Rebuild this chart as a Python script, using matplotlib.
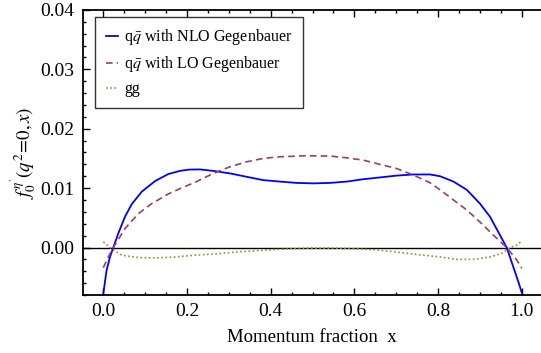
import matplotlib
matplotlib.use("Agg")
import matplotlib.pyplot as plt
from matplotlib.ticker import MultipleLocator, FormatStrFormatter

plt.rcParams['font.family'] = ['Liberation Serif', 'DejaVu Serif']
plt.rcParams['mathtext.fontset'] = 'stix'

# --- data ---
x_nlo = [0.0, 0.008, 0.016, 0.024, 0.036, 0.052, 0.068, 0.092, 0.124, 0.155, 0.183,
         0.205, 0.231, 0.263, 0.303, 0.343, 0.382, 0.422, 0.462, 0.502, 0.542, 0.582,
         0.621, 0.661, 0.70, 0.741, 0.781, 0.805, 0.837, 0.869, 0.90, 0.924, 0.944,
         0.964, 0.98, 0.992, 1.0]
y_nlo = [-0.0078, -0.0038, -0.0016, 0.0, 0.0024, 0.0052, 0.0073, 0.0094, 0.0112,
         0.01236, 0.0129, 0.01312, 0.01315, 0.0129, 0.01248, 0.0119, 0.01135, 0.0111,
         0.01088, 0.0108, 0.01088, 0.0111, 0.0115, 0.0118, 0.0121, 0.0123, 0.0123,
         0.0120, 0.0111, 0.0097, 0.0074, 0.0052, 0.0026, 0.0, -0.0033, -0.0058, -0.0076]

x_lo = [0.0, 0.012, 0.024, 0.052, 0.084, 0.116, 0.155, 0.183, 0.223, 0.263, 0.303,
        0.343, 0.382, 0.422, 0.486, 0.542, 0.582, 0.621, 0.661, 0.701, 0.741, 0.781,
        0.805, 0.837, 0.869, 0.90, 0.932, 0.964, 0.988, 1.0]
y_lo = [-0.0034, -0.0016, 0.0, 0.0032, 0.0057, 0.0074, 0.0090, 0.0099, 0.0111, 0.01248,
        0.0136, 0.01444, 0.0150, 0.01528, 0.01545, 0.0154, 0.0151, 0.01472, 0.0140,
        0.0133, 0.0122, 0.0109, 0.0097, 0.0080, 0.0063, 0.0043, 0.0021, 0.0, -0.0021,
        -0.0035]

x_gg = [0.0, 0.02, 0.044, 0.084, 0.124, 0.171, 0.219, 0.263, 0.327, 0.398, 0.45,
        0.494, 0.55, 0.598, 0.65, 0.693, 0.74, 0.805, 0.845, 0.884, 0.924, 0.952,
        0.972, 0.988, 1.0]
y_gg = [0.00095, -0.0002, -0.0013, -0.0017, -0.00175, -0.0016, -0.0013, -0.0011,
        -0.0007, -0.0004, -0.0002, -0.0001, -0.0001, -0.0002, -0.0004, -0.0007, -0.0011,
        -0.0016, -0.0020, -0.0020, -0.0016, -0.0010, 0.0, 0.0004, 0.0011]

labels = [r"q$\bar{q}$ with NLO Gegenbauer", r"q$\bar{q}$ with LO Gegenbauer", "gg"]
colors = ["#0000ff", "#993d71", "#998c3d"]

fig = plt.figure(figsize=(5.41, 3.53), dpi=100)
ax = fig.add_axes([0.153, 0.1643, 0.847, 0.8074])

ax.plot(x_nlo, y_nlo, color=colors[0], lw=1.3, label=labels[0])
ax.plot(x_lo, y_lo, color=colors[1], lw=1.2, ls=(0, (4, 2.5)), label=labels[1])
ax.plot(x_gg, y_gg, color=colors[2], lw=1.2, ls=(0, (1, 1.5)), label=labels[2])
ax.axhline(0, color='black', lw=1.0, zorder=1)

ax.set_xlim(-0.049, 1.046)
ax.set_ylim(-0.0080, 0.04)

ax.xaxis.set_major_locator(MultipleLocator(0.2))
ax.xaxis.set_minor_locator(MultipleLocator(0.05))
ax.yaxis.set_major_locator(MultipleLocator(0.01))
ax.yaxis.set_minor_locator(MultipleLocator(0.002))
ax.xaxis.set_major_formatter(FormatStrFormatter('%.1f'))
ax.yaxis.set_major_formatter(FormatStrFormatter('%.2f'))

ax.tick_params(which='both', direction='in', top=True, right=False, labelsize=14, width=1.0)
ax.tick_params(which='major', length=5, pad=6)
ax.tick_params(which='minor', length=2.5)
for s in ['left', 'bottom', 'top']:
    ax.spines[s].set_linewidth(1.3)
ax.spines['right'].set_visible(False)

ax.set_xlabel("Momentum fraction  x", fontsize=13.5, labelpad=6)
ax.set_ylabel(r"$f_0^{\eta'}(q^2\!=\!0,x)$", fontsize=13.5, labelpad=2)

leg = ax.legend(loc='upper left', bbox_to_anchor=(0.027, 0.975), borderaxespad=0,
                fontsize=11.5, handlelength=0.8, handletextpad=0.35, labelspacing=0.43,
                borderpad=0.65, fancybox=False, edgecolor='#333333', framealpha=1)
leg.get_frame().set_linewidth(1.0)

fig.savefig("out.png", dpi=100)
